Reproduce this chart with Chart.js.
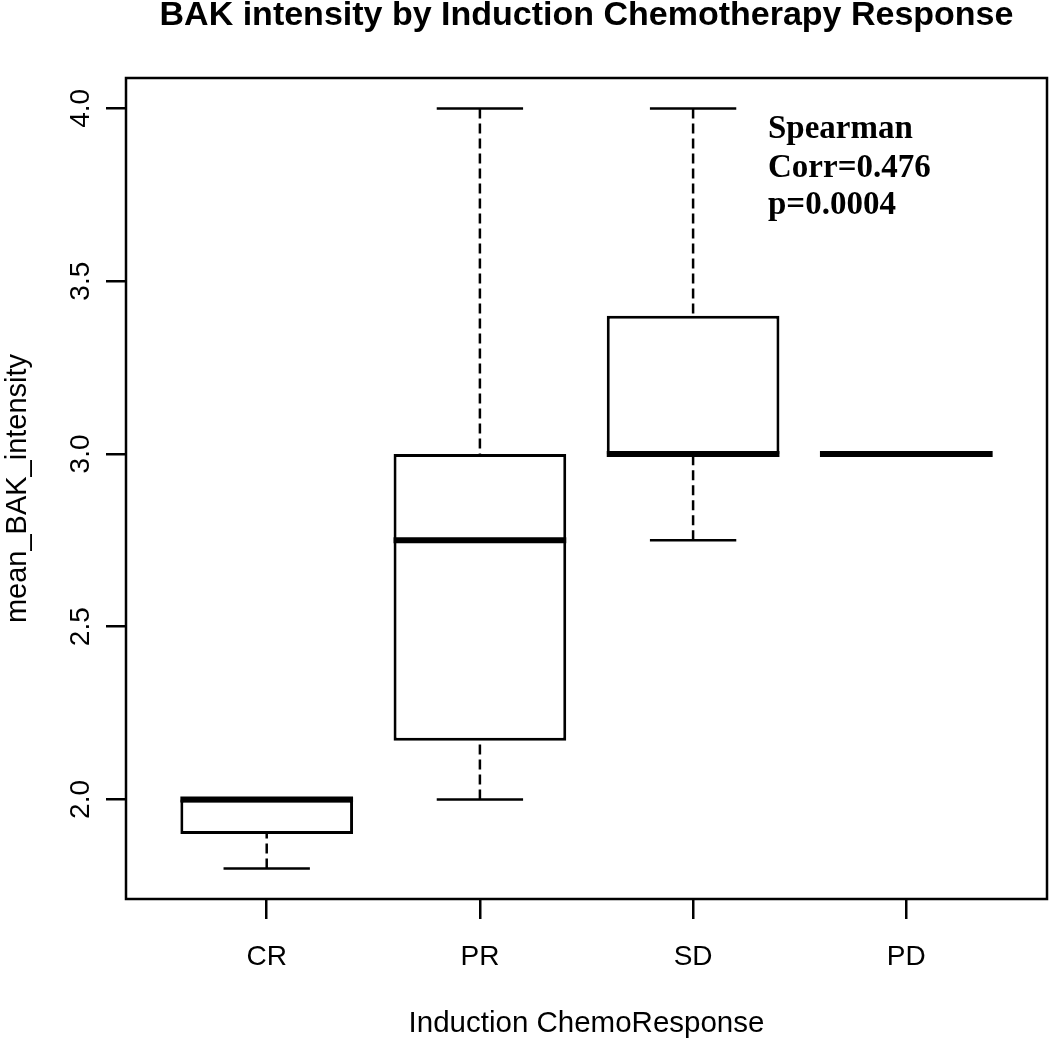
<!DOCTYPE html>
<html>
<head>
<meta charset="utf-8">
<title>BAK intensity by Induction Chemotherapy Response</title>
<script src="https://cdn.jsdelivr.net/npm/chart.js@4.4.1/dist/chart.umd.min.js"></script>
<style>
  html, body { margin: 0; padding: 0; background: #fff; }
  #wrap { width: 1050px; height: 1038px; }
</style>
</head>
<body>
<div id="wrap"><canvas id="boxChart" width="1050" height="1038"></canvas></div>
<script>
// ---------------- DATA ----------------
const categories = ['CR', 'PR', 'SD', 'PD'];
const xPositions = [1, 2, 3, 4];
const lowWhisker = [1.8, 2.0, 2.75, 3.0];
const q1 = [1.9, 2.17, 3.0, 3.0];
const medians = [2.0, 2.75, 3.0, 3.0];
const q3 = [2.0, 3.0, 3.4, 3.0];
const highWhisker = [2.0, 4.0, 4.0, 3.0];
const yTicks = [2.0, 2.5, 3.0, 3.5, 4.0];
const statLines = ['Spearman', 'Corr=0.476', 'p=0.0004'];

const titleText = 'BAK intensity by Induction Chemotherapy Response';
const xTitle = 'Induction ChemoResponse';
const yTitle = 'mean_BAK_intensity';

// R-like axis limits (data range padded by 4%)
const yMin = 1.8 - 0.04 * 2.2, yMax = 4.0 + 0.04 * 2.2;
const xMin = 0.5 - 0.04 * 4, xMax = 4.5 + 0.04 * 4;

const sans = '"Liberation Sans", Arial, sans-serif';
const serif = '"Liberation Serif", "Times New Roman", serif';

// ---------------- WHISKERS / MEDIANS / TEXT ----------------
const boxExtras = {
    id: 'boxExtras',
    beforeDatasetsDraw(chart) {
        const ctx = chart.ctx, y = chart.scales.y, x = chart.scales.x;
        const bars = chart.getDatasetMeta(0).data;
        ctx.save();
        ctx.strokeStyle = '#000';
        ctx.lineWidth = 2.5;
        bars.forEach((bar, i) => {
            const cx = x.getPixelForValue(xPositions[i]);
            const half = bar.width / 4;
            const segs = [[lowWhisker[i], q1[i]], [highWhisker[i], q3[i]]];
            segs.forEach(([w, edge]) => {
                if (w === edge) return;
                const wy = y.getPixelForValue(w), ey = y.getPixelForValue(edge);
                ctx.setLineDash([10, 5]);
                ctx.beginPath(); ctx.moveTo(cx, wy); ctx.lineTo(cx, ey); ctx.stroke();
                ctx.setLineDash([]);
                ctx.beginPath(); ctx.moveTo(cx - half, wy); ctx.lineTo(cx + half, wy); ctx.stroke();
            });
        });
        ctx.restore();
    },
    afterDatasetsDraw(chart) {
        const ctx = chart.ctx, y = chart.scales.y, x = chart.scales.x;
        const bars = chart.getDatasetMeta(0).data;
        ctx.save();
        ctx.strokeStyle = '#000';
        ctx.lineWidth = 6;
        bars.forEach((bar, i) => {
            const cx = x.getPixelForValue(xPositions[i]);
            const my = y.getPixelForValue(medians[i]);
            ctx.beginPath();
            ctx.moveTo(cx - bar.width / 2, my);
            ctx.lineTo(cx + bar.width / 2, my);
            ctx.stroke();
        });
        ctx.restore();
    },
    afterDraw(chart) {
        const ctx = chart.ctx, a = chart.chartArea;
        const x = chart.scales.x, y = chart.scales.y;
        ctx.save();
        // plot frame
        ctx.strokeStyle = '#000';
        ctx.lineWidth = 2.5;
        ctx.strokeRect(a.left, a.top, a.right - a.left, a.bottom - a.top);

        ctx.fillStyle = '#000';
        // title
        ctx.font = 'bold 34px ' + sans;
        ctx.textAlign = 'center';
        ctx.textBaseline = 'alphabetic';
        ctx.fillText(titleText, (a.left + a.right) / 2, 25);

        // x tick labels + title
        ctx.font = '28px ' + sans;
        xPositions.forEach((v, i) => {
            ctx.fillText(categories[i], x.getPixelForValue(v), 965);
        });
        ctx.font = '29.5px ' + sans;
        ctx.fillText(xTitle, (a.left + a.right) / 2, 1032);

        // y tick labels (rotated) + title
        ctx.font = '28px ' + sans;
        yTicks.forEach(v => {
            ctx.save();
            ctx.translate(89, y.getPixelForValue(v));
            ctx.rotate(-Math.PI / 2);
            ctx.fillText(v.toFixed(1), 0, 0);
            ctx.restore();
        });
        ctx.font = '29px ' + sans;
        ctx.save();
        ctx.translate(26, (a.top + a.bottom) / 2);
        ctx.rotate(-Math.PI / 2);
        ctx.fillText(yTitle, 0, 0);
        ctx.restore();

        // Spearman annotation
        ctx.font = 'bold 33px ' + serif;
        ctx.textAlign = 'left';
        const base = [138, 177, 214];
        statLines.forEach((t, i) => ctx.fillText(t, 768, base[i]));
        ctx.restore();
    }
};

// ---------------- CHART ----------------
new Chart(document.getElementById('boxChart'), {
    type: 'bar',
    data: {
        datasets: [{
            data: xPositions.map((v, i) => ({ x: v, y: [q1[i], q3[i]] })),
            backgroundColor: '#fff',
            borderColor: '#000',
            borderWidth: 3,
            borderSkipped: false,
            categoryPercentage: 1,
            barPercentage: 0.81
        }]
    },
    options: {
        responsive: false,
        animation: false,
        layout: { padding: { top: 78, right: 3, left: 0, bottom: 0 } },
        plugins: { legend: { display: false }, tooltip: { enabled: false } },
        scales: {
            x: {
                type: 'linear',
                min: xMin, max: xMax,
                offset: false,
                afterBuildTicks: s => { s.ticks = xPositions.map(v => ({ value: v })); },
                afterFit: s => { s.height = 139; },
                ticks: { display: false },
                border: { display: false },
                grid: { offset: false, drawOnChartArea: false, drawTicks: true, tickLength: 20, color: '#000', lineWidth: 2.5 }
            },
            y: {
                min: yMin, max: yMax,
                afterBuildTicks: s => { s.ticks = yTicks.map(v => ({ value: v })); },
                afterFit: s => { s.width = 126; },
                ticks: { display: false },
                border: { display: false },
                grid: { drawOnChartArea: false, drawTicks: true, tickLength: 20, color: '#000', lineWidth: 2.5 }
            }
        }
    },
    plugins: [boxExtras]
});
</script>
</body>
</html>
